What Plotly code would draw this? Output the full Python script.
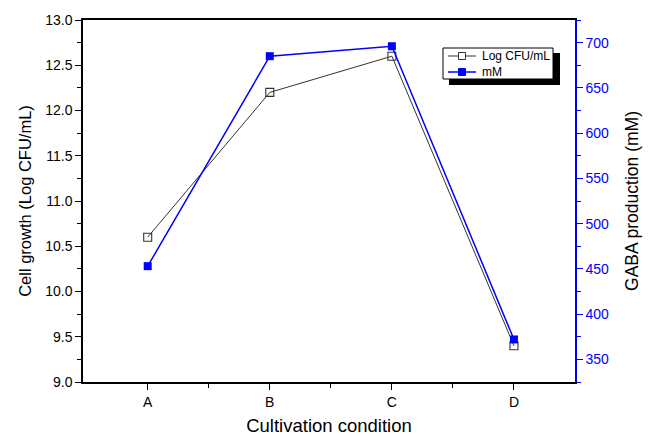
import plotly.graph_objects as go

categories = ["A", "B", "C", "D"]
log_cfu = [10.6, 12.2, 12.6, 9.4]
gaba_mm = [453, 685, 696, 372]
series_names = ["Log CFU/mL", "mM"]

x = list(range(len(categories)))

BLUE = "#0000ff"
GREY = "#333333"

fig = go.Figure()
fig.add_trace(go.Scatter(
    x=x, y=log_cfu, name=series_names[0], mode="lines+markers",
    line=dict(color=GREY, width=1),
    marker=dict(symbol="square-open", size=8, color=GREY, line=dict(width=1.1)),
    yaxis="y",
))
fig.add_trace(go.Scatter(
    x=x, y=gaba_mm, name=series_names[1], mode="lines+markers",
    line=dict(color=BLUE, width=1.5),
    marker=dict(symbol="square", size=8, color=BLUE),
    yaxis="y2",
))

# plot area in pixels: x 83..575, y 20..382
L, R, T, B = 83, 575, 20, 382
def px(v):
    return (v - L) / (R - L)
def py(v):
    return (B - v) / (B - T)

shapes = [
    # shadow
    dict(type="rect", xref="paper", yref="paper", x0=px(449), x1=px(560), y0=py(85), y1=py(53),
         fillcolor="black", line=dict(width=0), layer="above"),
    # box
    dict(type="rect", xref="paper", yref="paper", x0=px(443), x1=px(553), y0=py(79), y1=py(48),
         fillcolor="white", line=dict(color="black", width=1), layer="above"),
]
annotations = []
rows = [56, 72]
styles = [(GREY, 1, "open"), (BLUE, 1.5, "filled")]
for name, row, (col, lw, kind) in zip(series_names, rows, styles):
    shapes.append(dict(type="line", xref="paper", yref="paper", x0=px(448), x1=px(476),
                       y0=py(row), y1=py(row), line=dict(color=col, width=lw), layer="above"))
    shapes.append(dict(type="rect", xref="paper", yref="paper",
                       x0=px(458.5), x1=px(465.5), y0=py(row + 3.5), y1=py(row - 3.5),
                       fillcolor="white" if kind == "open" else col,
                       line=dict(color=col, width=1), layer="above"))
    annotations.append(dict(xref="paper", yref="paper", x=px(480), y=py(row), text=name,
                            showarrow=False, xanchor="left", yanchor="middle",
                            font=dict(size=12, color="black")))

font = "Liberation Sans, Arial, sans-serif"
fig.update_layout(
    width=648, height=436,
    margin=dict(l=L, r=648 - R, t=T, b=436 - B, autoexpand=False),
    paper_bgcolor="white", plot_bgcolor="white",
    font=dict(family=font, size=14, color="black"),
    showlegend=False,
    xaxis=dict(
        range=[-0.53, 3.5], tickvals=x, ticktext=categories,
        showline=True, linecolor="black", linewidth=1.5, mirror=True,
        ticks="outside", ticklen=6, tickcolor="black", showgrid=False, zeroline=False,
        automargin=False,
        minor=dict(tickvals=[0.5, 1.5, 2.5], ticks="outside", ticklen=4, tickcolor="black"),
        title=dict(text="Cultivation condition", font=dict(size=18.5), standoff=13),
    ),
    yaxis=dict(
        range=[9, 13], dtick=0.5, tickformat=".1f",
        showline=True, linecolor="black", linewidth=1.5,
        ticks="outside", ticklen=6, tickcolor="black", showgrid=False, zeroline=False,
        automargin=False,
        minor=dict(dtick=0.25, ticks="outside", ticklen=4, tickcolor="black"),
        title=dict(text="Cell growth (Log CFU/mL)", font=dict(size=16.5), standoff=9),
    ),
    yaxis2=dict(
        range=[325, 725], tick0=350, dtick=50, overlaying="y", side="right",
        showline=True, linecolor=BLUE, linewidth=1.5,
        ticks="outside", ticklen=6, tickcolor=BLUE, showgrid=False, zeroline=False,
        automargin=False,
        tickfont=dict(color=BLUE),
        minor=dict(tick0=325, dtick=25, ticks="outside", ticklen=4, tickcolor=BLUE),
        title=dict(text="GABA production (mM)", font=dict(size=17.5, color="black"), standoff=18),
    ),
    shapes=shapes,
    annotations=annotations,
)

fig.write_html("out.html", config={"displayModeBar": False},
               post_script="document.body.style.margin='0';")
